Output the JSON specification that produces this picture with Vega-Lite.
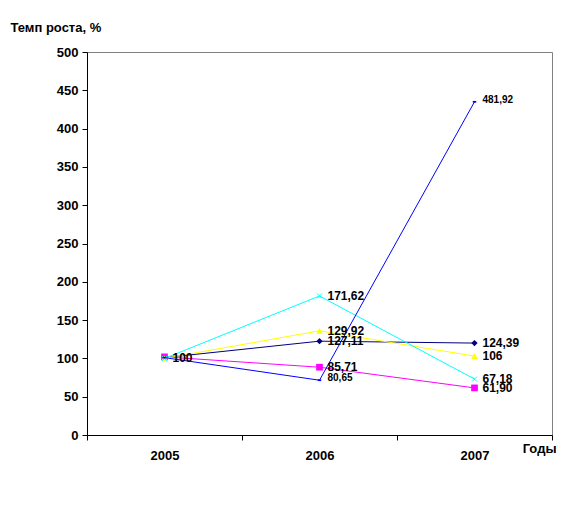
{
  "$schema": "https://vega.github.io/schema/vega-lite/v6.json",
  "width": 465,
  "height": 383,
  "autosize": "none",
  "padding": {"left": 87, "top": 52, "right": 16, "bottom": 81},
  "background": "white",
  "config": {
    "view": {"stroke": "#808080", "strokeWidth": 1},
    "font": "Liberation Sans",
    "axis": {"domainColor": "black", "tickColor": "black", "labelColor": "black", "titleColor": "black", "grid": false, "labelFontWeight": "bold", "titleFontWeight": "bold", "labelFont": "Liberation Sans", "titleFont": "Liberation Sans"}
  },
  "data": {
    "values": [
      {"year": "2005", "series": "s1", "value": 101, "label": ""},
      {"year": "2006", "series": "s1", "value": 122.5, "label": "127,11"},
      {"year": "2007", "series": "s1", "value": 120, "label": "124,39"},
      {"year": "2005", "series": "s2", "value": 102, "label": ""},
      {"year": "2006", "series": "s2", "value": 88.5, "label": "85,71"},
      {"year": "2007", "series": "s2", "value": 61.5, "label": "61,90"},
      {"year": "2005", "series": "s3", "value": 100, "label": "100"},
      {"year": "2006", "series": "s3", "value": 136, "label": "129,92"},
      {"year": "2007", "series": "s3", "value": 103, "label": "106"},
      {"year": "2005", "series": "s4", "value": 100, "label": ""},
      {"year": "2006", "series": "s4", "value": 181.5, "label": "171,62"},
      {"year": "2007", "series": "s4", "value": 73, "label": "67,18"},
      {"year": "2005", "series": "s5", "value": 101, "label": ""},
      {"year": "2006", "series": "s5", "value": 71.5, "label": "80,65"},
      {"year": "2007", "series": "s5", "value": 435, "label": "481,92"}
    ]
  },
  "encoding": {
    "x": {
      "field": "year", "type": "ordinal", "bandPosition": 0.5,
      "scale": {"type": "band", "paddingInner": 0, "paddingOuter": 0},
      "axis": {"title": "Годы", "labelAngle": 0, "tickBand": "extent", "tickSize": 5, "labelPadding": 9, "labelFontSize": 13, "titleFontSize": 13, "titleAnchor": "end", "titleAlign": "right", "titleX": 469, "titleY": 13, "titleBaseline": "middle"}
    },
    "y": {
      "field": "value", "type": "quantitative",
      "scale": {"domain": [0, 500], "nice": false},
      "axis": {"title": "Темп роста, %", "values": [0,50,100,150,200,250,300,350,400,450,500], "tickSize": 5, "labelPadding": 4, "labelFontSize": 13, "titleFontSize": 13, "titleAngle": 0, "titleAlign": "left", "titleBaseline": "middle", "titleX": -77, "titleY": -25}
    },
    "color": {
      "field": "series", "type": "nominal", "legend": null,
      "scale": {"domain": ["s1","s2","s3","s4","s5"], "range": ["#000080","#FF00FF","#FFFF00","#00FFFF","#0000FF"]}
    }
  },
  "layer": [
    {"mark": {"type": "line", "strokeWidth": 1}, "encoding": {"detail": {"field": "series"}}},
    {"transform": [{"filter": "datum.series == 's1'"}], "mark": {"type": "point", "shape": "diamond", "filled": true, "size": 40, "opacity": 1}},
    {"transform": [{"filter": "datum.series == 's2'"}], "mark": {"type": "point", "shape": "square", "filled": true, "size": 45, "opacity": 1}},
    {"transform": [{"filter": "datum.series == 's3'"}], "mark": {"type": "point", "shape": "triangle-up", "filled": true, "size": 45, "opacity": 1}},
    {"transform": [{"filter": "datum.series == 's4'"}], "mark": {"type": "point", "shape": "M-1,-1L1,1M1,-1L-1,1", "filled": false, "size": 25, "strokeWidth": 1, "opacity": 1}},
    {"transform": [{"filter": "datum.series == 's5'"}], "mark": {"type": "point", "shape": "M-1,-0.5L1,-0.5L1,0.5L-1,0.5Z", "filled": true, "size": 12, "opacity": 1}},
    {"transform": [{"filter": "datum.label != '' && datum.series != 's5'"}], "mark": {"type": "text", "align": "left", "baseline": "middle", "dx": 8, "fontSize": 12, "fontWeight": "bold", "color": "black"}, "encoding": {"text": {"field": "label"}, "color": {"value": "black"}}},
    {"transform": [{"filter": "datum.label != '' && datum.series == 's5'"}], "mark": {"type": "text", "align": "left", "baseline": "middle", "dx": 8, "dy": -2, "fontSize": 10, "fontWeight": "bold"}, "encoding": {"text": {"field": "label"}, "color": {"value": "black"}}}
  ]
}
